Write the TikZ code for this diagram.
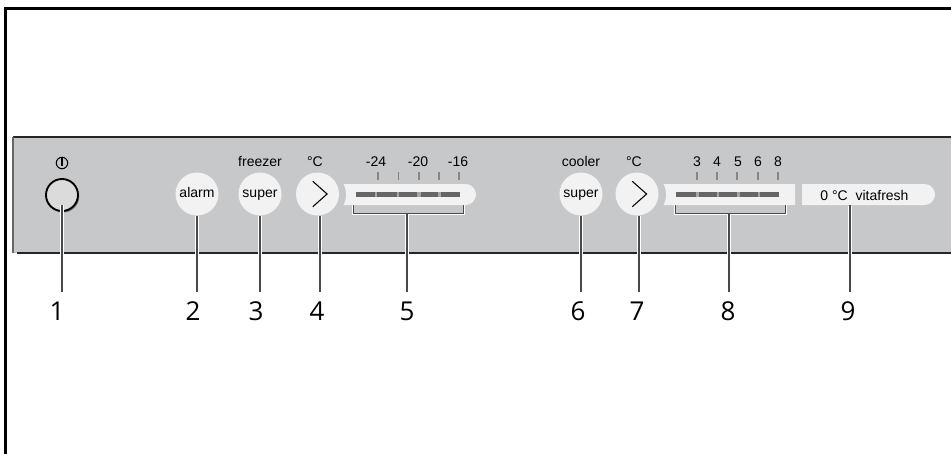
\documentclass[tikz,border=0pt]{standalone}
\usepackage{fontspec}
\setmainfont{Liberation Sans}
\newfontfamily\digitfont{Open Sans}
\usetikzlibrary{positioning,shapes.misc,shadows}
\definecolor{panelgray}{HTML}{C6C8C9}
\definecolor{keywhite}{HTML}{F2F2F2}
\definecolor{bargray}{HTML}{666666}
\definecolor{gapgray}{HTML}{A6A6A6}
\definecolor{linedark}{HTML}{4A4A4A}
\begin{document}
\begin{tikzpicture}[
		  x=0.75pt, y=-0.75pt,
		  key/.style={circle, fill=keywhite, minimum size=32.25pt, inner sep=0pt, font=\fontsize{10.5pt}{12pt}\selectfont, text height=7.5pt, text depth=2.25pt},
		  caption/.style={anchor=base, inner sep=0pt, font=\fontsize{10.5pt}{12pt}\selectfont},
		  number/.style={minimum height=28.5pt, inner sep=0pt, font=\digitfont\fontsize{19.5pt}{20pt}\selectfont},
		  slider/.style={rounded rectangle, fill=keywhite, minimum height=15.75pt, inner sep=0pt},
		  leader/.style={draw=linedark, line width=1.25pt},
		  halo/.style={draw=white, line width=2.6pt},
		  edge/.style={draw=black!85, line width=1.3pt},
		  bracket/.style={draw=linedark, line width=0.6pt},
		  tick/.style={draw=bargray!80, line width=1pt}
		]
		\useasboundingbox (0,0) rectangle (951,454);
		% outer frame
		\draw[black, line width=1.9pt] (951,8.5) -- (5.3,8.5) -- (5.3,454);
		% panel
		\fill[panelgray] (13,137) rectangle (951,253);
		\draw[edge] (13,137) -- (951,137);
		\draw[edge] (17,253) -- (951,253);
		\draw[bargray, line width=0.9pt] (13,137) -- (13,253);

		% keys
		\node[circle, fill=black!14, draw=black, line width=1.4pt, minimum size=24pt, inner sep=0pt,
		  drop shadow={shadow xshift=0.9pt, shadow yshift=-1.1pt, fill=black!55, opacity=1}] (power) at (62,195) {};
		\node[key] (alarm) at (197,194) {alarm};
		\node[key] (superF) at (260,194) {super};
		\node[key] (upF) at (317.5,194) {};
		\node[key] (superC) at (581,194) {super};
		\node[key] (upC) at (637,194) {};
		\foreach \k in {upF,upC}
		  \draw[black, line width=0.8pt] ([shift={(-3.5pt,9.5pt)}]\k.center) -- ([shift={(7.2pt,0pt)}]\k.center) -- ([shift={(-3.5pt,-9.5pt)}]\k.center);

		% power sign
		\node[circle, draw=black, line width=0.8pt, minimum size=8.6pt, inner sep=0pt] (sign) at (62,163) {};
		\draw[black, line width=0.9pt] (sign.north) -- ([yshift=-2pt]sign.center);

		% sliders
		\fill[keywhite] (343.5,184) -- (465.5,184) arc[start angle=90, end angle=-90, radius=7.875pt]
		  -- (343.5,205) .. controls (347,198) and (347,191) .. (343.5,184);
		\fill[keywhite] (663.5,184) -- (795,184) -- (795,205)
		  -- (663.5,205) .. controls (667,198) and (667,191) .. (663.5,184);
		\node[slider, minimum width=99.75pt, rounded rectangle west arc=none] (vita) at (868.5,194.5) {};
		\node[caption] (vitatext) at (864.5,200) {0 °C\ \ vitafresh};

		% scales
		\fill[gapgray] (356,192) rectangle (459.5,197);
		\fill[gapgray] (676,192) rectangle (779,197);
		\foreach \a/\b in {356/374.7,377.3/396.7,399.3/417.3,420.7/438.3,441/459.5,676/695.7,698.7/716.7,719.3/736.7,740/758.3,760.3/779}
		  \fill[bargray] (\a,192) rectangle (\b,197);
		\foreach \x in {378,398.5,419,439,459,697,717,737,758,778}
		  \draw[tick] (\x,172) -- (\x,180);
		\node[caption] (tm24) at (376,166) {-24};
		\node[caption] (tm20) at (418,166) {-20};
		\node[caption] (tm16) at (458,166) {-16};
		\node[caption] (t3) at (697,166) {3};
		\node[caption] (t4) at (717,166) {4};
		\node[caption] (t5) at (738,166) {5};
		\node[caption] (t6) at (758,166) {6};
		\node[caption] (t8) at (778,166) {8};
		\node[caption] (freezer) at (260,166) {freezer};
		\node[caption] (degF) at (315,166) {°C};
		\node[caption] (cooler) at (581,166) {cooler};
		\node[caption] (degC) at (634,166) {°C};

		% brackets
		\draw[white, line width=0.6pt] (352.2,205) -- (352.2,214) -- (464,214) -- (464,205);
		\draw[white, line width=0.6pt] (674.2,205) -- (674.2,214) -- (786,214) -- (786,205);
		\draw[bracket] (353,205) -- (353,213) -- (463,213) -- (463,205);
		\draw[bracket] (675,205) -- (675,213) -- (785,213) -- (785,205);
		\coordinate (brF) at (407,213);
		\coordinate (brC) at (729,213);

		% numbers
		\node[number] (n1) at (57,311) {1};
		\node[number] (n2) at (193,311) {2};
		\node[number] (n3) at (256,311) {3};
		\node[number] (n4) at (317,311) {4};
		\node[number] (n5) at (407,311) {5};
		\node[number] (n6) at (578,311) {6};
		\node[number] (n7) at (637,311) {7};
		\node[number] (n8) at (728,311) {8};
		\node[number] (n9) at (848,311) {9};

		% leaders
		\foreach \x/\y in {62/205,197/216,260/216,320/216,407/214,581/216,639/216,729/214,850/206}
		  \draw[halo] (\x,\y) -- (\x,255);
		\draw[leader] (power.center |- 0,205) -- (power.center |- n1.north);
		\draw[leader] (alarm.south) -- (alarm.south |- n2.north);
		\draw[leader] (superF.south) -- (superF.south |- n3.north);
		\draw[leader] ([xshift=1.9pt]upF.south) -- ([xshift=1.9pt]upF.south |- n4.north);
		\draw[leader] (brF) -- (brF |- n5.north);
		\draw[leader] (superC.south) -- (superC.south |- n6.north);
		\draw[leader] ([xshift=1.5pt]upC.south) -- ([xshift=1.5pt]upC.south |- n7.north);
		\draw[leader] (brC) -- (brC |- n8.north);
		\draw[leader] ([xshift=-13.9pt]vita.south) -- ([xshift=-13.9pt]vita.south |- n9.north);
		\end{tikzpicture}
\end{document}
